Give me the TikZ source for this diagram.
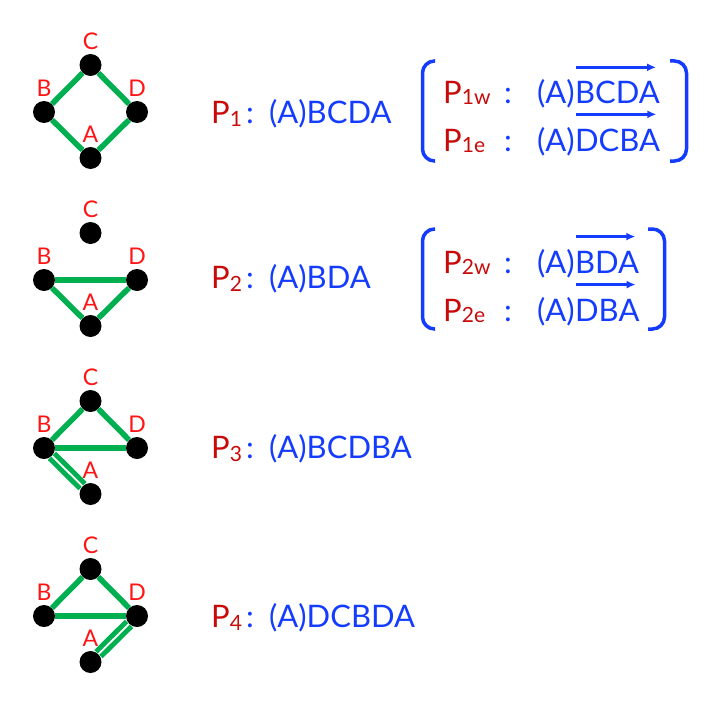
\documentclass[tikz,border=0pt]{standalone}
\usepackage{fontspec}
\setmainfont{Lato}
\usetikzlibrary{positioning,arrows.meta}

\definecolor{edgegreen}{RGB}{0,176,80}
\definecolor{seqblue}{RGB}{20,60,255}
\definecolor{namered}{RGB}{200,10,10}
\definecolor{vertred}{RGB}{255,20,20}

\newcommand{\psub}[2][-3bp]{\raisebox{#1}{\fontsize{21bp}{22bp}\selectfont #2}}

\begin{document}
\begin{tikzpicture}[x=1bp, y=-1bp, font=\fontsize{31bp}{36bp}\selectfont, label distance=4bp, vertex/.style={on grid, circle, fill=black, minimum size=22bp, inner sep=0pt}, vlabel/.style={text=vertred, font=\fontsize{23bp}{24bp}\selectfont, inner sep=0pt}, gedge/.style={draw=edgegreen, line width=5.5bp}, dedge/.style={draw=edgegreen, line width=5bp, double=white, double distance=1.8bp}, pname/.style={text=namered, anchor=base west, inner sep=0pt}, colon/.style={text=seqblue, anchor=base, inner sep=0pt}, pseq/.style={text=seqblue, anchor=base west, inner sep=0pt}, vec/.style={draw=seqblue, line width=2.5bp, -{Latex[length=9bp, width=8bp]}}, brk/.style={draw=seqblue, line width=3.5bp, rounded corners=12bp}]
      \useasboundingbox (0,0) rectangle (720,703);

      % graph 1
      \node [vertex, label={[vlabel]above:C}] (c1) at (90.5,65) {};
      \node [vertex, label={[vlabel]above:B}, below left = 47bp and 46.5bp of c1] (b1) {};
      \node [vertex, label={[vlabel]above:D}, below right = 47bp and 46.5bp of c1] (d1) {};
      \node [vertex, label={[vlabel]above:A}, below = 93bp of c1] (a1) {};

      % graph 2
      \node [vertex, label={[vlabel]above:C}, below = 168bp of c1] (c2) {};
      \node [vertex, label={[vlabel]above:B}, below left = 47bp and 46.5bp of c2] (b2) {};
      \node [vertex, label={[vlabel]above:D}, below right = 47bp and 46.5bp of c2] (d2) {};
      \node [vertex, label={[vlabel]above:A}, below = 93bp of c2] (a2) {};

      % graph 3
      \node [vertex, label={[vlabel]above:C}, below = 168bp of c2] (c3) {};
      \node [vertex, label={[vlabel]above:B}, below left = 47bp and 46.5bp of c3] (b3) {};
      \node [vertex, label={[vlabel]above:D}, below right = 47bp and 46.5bp of c3] (d3) {};
      \node [vertex, label={[vlabel]above:A}, below = 93bp of c3] (a3) {};

      % graph 4
      \node [vertex, label={[vlabel]above:C}, below = 168bp of c3] (c4) {};
      \node [vertex, label={[vlabel]above:B}, below left = 47bp and 46.5bp of c4] (b4) {};
      \node [vertex, label={[vlabel]above:D}, below right = 47bp and 46.5bp of c4] (d4) {};
      \node [vertex, label={[vlabel]above:A}, below = 93bp of c4] (a4) {};

      \path[gedge] (b1) edge (c1) (c1) edge (d1) (d1) edge (a1) (a1) edge (b1);

      \path[gedge] (b2) edge (d2) (b2) edge (a2) (d2) edge (a2);

      \path[gedge] (b3) edge (c3) (c3) edge (d3) (b3) edge (d3);
      \draw[dedge] (b3) -- (a3);

      \path[gedge] (b4) edge (c4) (c4) edge (d4) (b4) edge (d4);
      \draw[dedge] (d4) -- (a4);

      % paths
      \node [pname] (p1) at (211,124) {P\psub{1}};
      \node [colon] (k1) at (250,124) {:};
      \node [pseq] (s1) at (269,124) {(A)BCDA};

      \node [pname] (p2) at (211,288) {P\psub{2}};
      \node [colon] (k2) at (250,288) {:};
      \node [pseq] (s2) at (269,288) {(A)BDA};

      \node [pname] (p3) at (211,458) {P\psub{3}};
      \node [colon] (k3) at (250,458) {:};
      \node [pseq] (s3) at (269,458) {(A)BCDBA};

      \node [pname] (p4) at (211,627) {P\psub{4}};
      \node [colon] (k4) at (250,627) {:};
      \node [pseq] (s4) at (269,627) {(A)DCBDA};

      % directed versions of P1
      \node [pname] (p1w) at (443,104) {P\psub[-1bp]{1w}};
      \node [colon] (k1w) at (508,104) {:};
      \node [pseq] (h1w) at (537,104) {(A)};
      \node [pseq, base right = 0pt of h1w] (s1w) {BCDA};

      \node [pname] (p1e) at (443,151) {P\psub[-1bp]{1e}};
      \node [colon] (k1e) at (508,151) {:};
      \node [pseq] (h1e) at (537,151) {(A)};
      \node [pseq, base right = 0pt of h1e] (s1e) {DCBA};

      \draw[vec] ([xshift=1bp, yshift=14bp]s1w.north west) -- ([xshift=-4bp, yshift=14bp]s1w.north east);
      \draw[vec] ([xshift=1bp, yshift=14bp]s1e.north west) -- ([xshift=-4bp, yshift=14bp]s1e.north east);

      \draw[brk] (435,61) -- (422.5,61) -- (422.5,161) -- (435,161);
      \draw[brk] (670,61) -- (686.5,61) -- (686.5,161) -- (670,161);

      % directed versions of P2
      \node [pname] (p2w) at (443,273) {P\psub[-1bp]{2w}};
      \node [colon] (k2w) at (508,273) {:};
      \node [pseq] (h2w) at (537,273) {(A)};
      \node [pseq, base right = 0pt of h2w] (s2w) {BDA};

      \node [pname] (p2e) at (443,321) {P\psub[-1bp]{2e}};
      \node [colon] (k2e) at (508,321) {:};
      \node [pseq] (h2e) at (537,321) {(A)};
      \node [pseq, base right = 0pt of h2e] (s2e) {DBA};

      \draw[vec] ([xshift=1bp, yshift=14bp]s2w.north west) -- ([xshift=-4bp, yshift=14bp]s2w.north east);
      \draw[vec] ([xshift=1bp, yshift=14bp]s2e.north west) -- ([xshift=-4bp, yshift=14bp]s2e.north east);

      \draw[brk] (435,229) -- (422.5,229) -- (422.5,329) -- (435,329);
      \draw[brk] (648,229) -- (664.5,229) -- (664.5,329) -- (648,329);
    \end{tikzpicture}
\end{document}
